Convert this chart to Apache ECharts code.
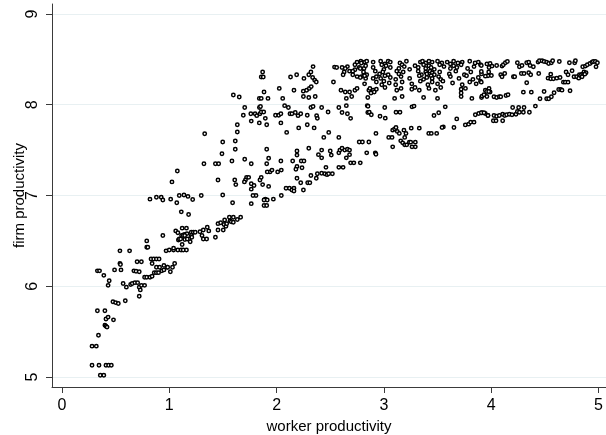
<!DOCTYPE html>
<html><head><meta charset="utf-8">
<script src="https://cdn.jsdelivr.net/npm/echarts@6/dist/echarts.min.js"></script>
<style>html,body{margin:0;padding:0;background:#fff}#c{width:606px;height:435px}</style>
</head><body><div id="c"></div>
<script>
var xTicks = [0, 1, 2, 3, 4, 5];
var yTicks = [5, 6, 7, 8, 9];
var xTitle = 'worker productivity';
var yTitle = 'firm productivity';

var lowLeft = [
[0.28,5.13],[0.345,5.13],[0.41,5.13],[0.435,5.13],[0.46,5.13],[0.357,5.02],[0.39,5.02],
[0.28,5.34],[0.32,5.34],[0.34,5.46],[0.40,5.57],[0.41,5.56],[0.42,5.55],
[0.41,5.64],[0.43,5.66],[0.48,5.63],[0.33,5.73],[0.40,5.73],
[0.475,5.83],[0.50,5.82],[0.525,5.81],[0.59,5.84],[0.72,5.89],
[0.57,6.03],[0.60,5.99],[0.64,6.02],[0.655,6.03],[0.68,6.04],[0.705,6.04],[0.72,5.99],[0.73,5.96],[0.74,6.01],[0.77,6.01],
[0.43,6.01],[0.44,6.06],[0.33,6.17],[0.35,6.17],[0.39,6.12],[0.49,6.18],[0.55,6.18],[0.67,6.17],[0.69,6.165],[0.72,6.16],
[0.77,6.10],[0.79,6.10],[0.82,6.10],[0.84,6.11],[0.86,6.15],[0.88,6.15],[0.90,6.15],[0.93,6.17],[0.95,6.18],[0.98,6.21],[1.01,6.16],[1.03,6.21],[1.05,6.25],
[0.54,6.25],[0.545,6.24],[0.70,6.27],[0.74,6.27],[0.83,6.30],[0.855,6.30],[0.88,6.30],[0.905,6.30],
[0.84,6.25],[0.88,6.21],[0.91,6.21],[0.95,6.23],[0.985,6.21],[0.54,6.39],[0.63,6.39],
[0.79,6.50],[0.79,6.43],[0.80,6.43],[0.94,6.56],
[0.97,6.39],[1.00,6.40],[1.04,6.40],[1.08,6.40],[1.11,6.40],[1.13,6.40],[1.16,6.40],[1.12,6.46],
[1.06,6.61],[1.08,6.59],[1.12,6.64],[1.16,6.64],[1.115,6.56],[1.14,6.57],[1.165,6.58],[1.185,6.52],[1.195,6.49],[1.215,6.59],[1.085,6.51],[1.145,6.515],[1.04,6.42],
[1.093,6.52],[1.106,6.52],[1.13,6.56],[1.144,6.56],[1.168,6.52],[1.205,6.595],[1.224,6.595],[1.242,6.595],[1.205,6.56],[1.21,6.54],
[1.075,7.27],[1.025,7.15],[0.82,6.96],[0.88,6.98],[0.925,6.98],[0.94,6.95],[1.013,6.96],[1.07,6.92],[1.093,7.0],[1.137,7.006],[1.174,6.99],[1.218,6.956],[1.112,6.82],[1.18,6.79]
];

var midLeft = [
[1.597,8.107],[1.652,8.085],[1.703,7.97],[1.69,7.885],[1.634,7.78],[1.764,7.82],[1.839,7.80],[1.908,7.78],
[1.634,7.70],[1.33,7.68],[1.498,7.59],[1.615,7.60],[1.615,7.51],[1.491,7.46],[1.908,7.51],[1.926,7.41],[1.908,7.35],[1.43,7.35],[1.46,7.35],[1.323,7.35],[1.584,7.38],[1.703,7.40],[1.764,7.35],
[1.454,7.17],[1.61,7.17],[1.62,7.12],[1.72,7.20],[1.71,7.17],[1.70,7.15],[1.74,7.20],[1.764,7.13],[1.764,7.07],[1.79,7.11],[1.845,7.17],[1.857,7.20],[1.87,7.12],[1.926,7.10],[1.938,7.26],[1.957,7.28],[1.913,7.26],[2.01,7.26],
[1.298,7.0],[1.498,7.006],[1.59,6.92],[1.808,7.0],[1.78,7.0],[1.764,6.91],[1.895,6.96],[1.883,6.95],[1.913,6.95],[1.883,6.89],[1.908,6.89],[1.97,6.96],
[1.286,6.60],[1.305,6.56],[1.317,6.62],[1.354,6.65],[1.368,6.61],[1.317,6.52],[1.348,6.52],[1.43,6.54],
[1.454,6.69],[1.454,6.62],[1.479,6.70],[1.503,6.62],[1.51,6.68],[1.528,6.66],[1.516,6.73],[1.535,6.69],[1.56,6.76],[1.566,6.72],[1.578,6.71],[1.597,6.76],[1.634,6.735],[1.665,6.76],[1.597,6.705]
];

var midRight = [
[1.870,8.36],[1.857,8.305],[1.876,8.305],[1.839,8.07],[1.857,8.07],[1.92,8.07],[1.883,8.14],[2.025,8.18],[2.057,8.07],[2.13,8.305],[2.187,8.33],[2.162,8.16],[2.255,8.29],
[2.249,8.15],[2.28,8.16],[2.305,8.18],[2.323,8.20],[2.25,8.09],[2.30,8.08],[2.36,8.09],
[2.30,8.33],[2.32,8.36],[2.34,8.42],[2.336,8.30],[2.355,8.27],[2.37,8.25],[2.54,8.415],[2.56,8.41],[2.53,8.25],
[2.61,8.41],[2.63,8.36],[2.62,8.33],[2.66,8.42],[2.64,8.40],
[2.73,8.44],[2.75,8.47],[2.785,8.48],[2.82,8.47],[2.77,8.41],[2.73,8.385],[2.68,8.37],[2.71,8.37],[2.71,8.33],[2.75,8.31],[2.79,8.31],[2.815,8.34],[2.83,8.29],[2.815,8.40],
[2.60,8.16],[2.64,8.14],[2.68,8.14],[2.73,8.16],[2.75,8.18],[2.65,8.07],[2.70,8.09],[2.86,8.16],
[1.76,7.90],[1.80,7.90],[1.815,7.88],[1.845,7.90],[1.857,7.92],[1.88,7.92],[1.895,7.85],[1.84,7.97],[1.85,7.98],
[1.99,7.885],[2.02,7.885],[2.04,7.90],[2.04,7.80],[2.075,7.99],[2.11,7.97],
[2.125,7.90],[2.143,7.90],[2.174,7.915],[2.20,7.88],[2.225,7.90],[2.094,7.695],[2.206,7.745],
[2.286,7.885],[2.286,7.78],[2.32,7.97],[2.34,7.98],[2.35,7.745],[2.373,7.88],[2.38,7.85],[2.42,7.97],[2.44,7.64],[2.48,7.92],[2.486,7.695],
[2.58,7.97],[2.65,7.99],[2.58,7.64],[2.61,7.915],[2.66,7.90],[2.69,7.85],[2.77,7.59],[2.80,7.59],[2.86,7.59],[2.845,7.99],[2.85,7.915],[2.84,7.47],
[2.04,7.38],[2.044,7.28],[2.088,7.08],[2.12,7.08],[2.143,7.06],[2.162,7.08],[2.044,7.0],[2.162,7.05],[2.25,7.06],
[2.15,7.38],[2.19,7.32],[2.18,7.29],[2.23,7.38],[2.255,7.38],[2.237,7.305],[2.19,7.445],[2.19,7.49],
[2.19,7.19],[2.225,7.14],[2.29,7.14],[2.31,7.14],[2.32,7.22],[2.37,7.19],[2.30,7.52],
[2.38,7.24],[2.42,7.245],[2.45,7.24],[2.47,7.23],[2.485,7.24],[2.52,7.24],[2.46,7.31],
[2.39,7.45],[2.42,7.415],[2.42,7.50],[2.50,7.49],[2.51,7.445],
[2.58,7.47],[2.59,7.50],[2.61,7.52],[2.635,7.50],[2.66,7.51],[2.68,7.45],[2.65,7.415],[2.68,7.50],
[2.58,7.31],[2.62,7.31],[2.69,7.36],[2.72,7.36],[2.78,7.36]
];

var topBand = [
[2.79,8.46],[2.84,8.48],[2.90,8.47],[2.97,8.48],[3.01,8.45],[3.04,8.48],[3.06,8.47],[3.15,8.46],[3.21,8.48],[3.34,8.47],[3.36,8.48],[3.39,8.46],[3.42,8.48],[3.45,8.47],[3.50,8.48],[3.54,8.46],[3.59,8.47],[3.62,8.45],[3.65,8.48],[3.69,8.46],[3.73,8.47],[3.80,8.48],[3.85,8.46],[3.88,8.47],[3.96,8.45],
[2.78,8.40],[2.83,8.43],[2.90,8.41],[2.98,8.44],[3.00,8.39],[3.02,8.43],[3.06,8.41],[3.14,8.40],[3.17,8.44],[3.19,8.42],[3.24,8.39],[3.29,8.43],[3.32,8.41],[3.37,8.44],[3.39,8.40],[3.42,8.43],[3.44,8.41],[3.47,8.39],[3.52,8.44],[3.56,8.42],[3.62,8.40],[3.65,8.43],[3.68,8.41],[3.72,8.44],[3.78,8.40],[3.84,8.42],[3.90,8.44],[3.98,8.41],
[2.81,8.36],[2.84,8.33],[2.92,8.37],[2.96,8.34],[2.99,8.36],[3.04,8.33],[3.12,8.37],[3.14,8.34],[3.18,8.36],[3.32,8.37],[3.35,8.33],[3.39,8.36],[3.40,8.34],[3.43,8.37],[3.45,8.35],[3.47,8.33],[3.52,8.36],[3.61,8.34],[3.67,8.37],[3.75,8.33],[3.81,8.36],[3.91,8.34],
[2.78,8.30],[2.82,8.32],[2.90,8.29],[2.93,8.31],[2.97,8.29],[3.01,8.32],[3.06,8.30],[3.11,8.28],[3.16,8.31],[3.24,8.29],[3.33,8.32],[3.37,8.28],[3.40,8.30],[3.44,8.32],[3.45,8.29],[3.51,8.31],[3.53,8.28],[3.62,8.31],[3.70,8.29],[3.77,8.32],[3.83,8.28],[3.88,8.30],[3.97,8.32],
[2.82,8.23],[2.93,8.25],[2.98,8.22],[3.00,8.26],[3.05,8.24],[3.11,8.22],[3.17,8.25],[3.26,8.23],[3.34,8.26],[3.41,8.22],[3.45,8.25],[3.50,8.23],[3.55,8.26],[3.64,8.24],[3.73,8.22],[3.80,8.25],[3.86,8.23],[3.90,8.26],
[2.87,8.18],[2.90,8.16],[2.93,8.17],[3.01,8.19],[3.12,8.16],[3.16,8.18],[3.26,8.17],[3.29,8.19],[3.33,8.16],[3.42,8.18],[3.48,8.16],[3.53,8.19],[3.72,8.17],[3.76,8.18],[3.945,8.16],[3.98,8.18],
[2.88,8.13],[2.91,8.14],[3.72,8.13],[3.99,8.14],
[2.85,8.08],[3.10,8.07],[3.17,8.09],[3.37,8.08],[3.50,8.07],[3.72,8.09],[3.82,8.07],[3.91,8.08],[3.96,8.09]
];

var lowerBranch = [
[2.852,7.984],[2.864,7.918],[2.883,7.889],[3.008,7.97],[3.013,7.852],[2.964,7.874],[3.113,7.918],[3.15,7.918],[3.262,7.977],[3.281,7.985],[3.467,7.882],[3.511,7.911],[3.572,7.977],[3.679,7.844],
[3.759,7.778],[3.79,7.786],[3.809,7.808],[3.84,7.808],[3.852,7.889],[3.884,7.904],[3.914,7.911],[3.945,7.904],[3.97,7.882],
[3.554,7.756],[3.542,7.75],[3.653,7.75],[3.418,7.684],[3.442,7.684],[3.492,7.684],[3.33,7.742],[3.255,7.742],
[3.082,7.72],[3.10,7.734],[3.113,7.75],[3.125,7.706],[3.144,7.684],[3.187,7.72],[3.206,7.684],[3.194,7.64],
[3.045,7.64],[3.076,7.64],[3.157,7.602],[3.175,7.58],[3.194,7.558],[3.213,7.558],[3.237,7.588],[3.25,7.588],[3.293,7.588],[3.262,7.536],[3.293,7.536],[3.082,7.536],
[2.926,7.684],[2.92,7.47],[2.926,7.455]
];

var rightEnd = [
[3.908,8.433],[3.99,8.455],[4.008,8.426],[4.051,8.433],[4.101,8.426],[4.113,8.44],[4.132,8.462],[4.151,8.477],[4.244,8.462],[4.263,8.418],[4.287,8.433],[4.331,8.462],[4.35,8.47],[4.362,8.433],[4.393,8.418],[4.437,8.47],[4.449,8.484],[4.474,8.484],[4.493,8.477],[4.517,8.47],[4.536,8.455],[4.561,8.462],[4.573,8.484],[4.635,8.477],[4.729,8.462],[4.778,8.462],[4.785,8.484],[4.853,8.418],[4.878,8.426],[4.896,8.44],[4.921,8.455],[4.94,8.47],[4.952,8.477],[4.971,8.477],[4.99,8.462],[4.977,8.418],
[3.908,8.367],[3.977,8.36],[4.002,8.323],[4.089,8.33],[4.126,8.345],[4.207,8.308],[4.281,8.345],[4.306,8.345],[4.35,8.352],[4.368,8.33],[4.443,8.345],[4.555,8.337],[4.698,8.36],[4.716,8.33],[4.754,8.374],[4.822,8.33],[4.847,8.337],[4.865,8.36],[4.884,8.352],[4.772,8.308],
[3.908,8.249],[3.946,8.315],[4.101,8.308],[4.219,8.308],[4.331,8.242],[4.53,8.293],[4.555,8.286],[4.58,8.286],[4.611,8.293],[4.642,8.3],[4.673,8.249],[4.691,8.249],[4.716,8.249],[4.797,8.308],[4.816,8.293],[4.834,8.323],[4.847,8.308],[4.872,8.337],
[3.915,8.095],[3.933,8.11],[3.958,8.146],[3.977,8.146],[4.026,8.088],[4.051,8.08],[4.076,8.088],[4.089,8.088],[4.138,8.102],[4.157,8.11],[4.3,8.139],[4.374,8.139],[4.455,8.066],[4.493,8.146],[4.517,8.066],[4.536,8.066],[4.561,8.088],[4.586,8.132],[4.629,8.168],[4.648,8.168],[4.66,8.161],[4.735,8.154],
[4.2,7.97],[4.256,7.97],[4.306,7.97],[4.412,7.985],[3.908,7.911],[3.933,7.911],[3.97,7.882],[4.026,7.882],[4.051,7.874],[4.076,7.882],[4.107,7.896],[4.126,7.882],[4.144,7.889],[4.169,7.896],[4.194,7.889],[4.231,7.896],[4.244,7.926],[4.263,7.918],[4.3,7.918],[4.356,7.918],[4.02,7.823],[4.045,7.823],[4.107,7.823]
];

var points = [].concat(lowLeft, midLeft, midRight, topBand, lowerBranch, rightEnd);

var chart = echarts.init(document.getElementById('c'), null, {renderer: 'canvas'});
var font = 'Liberation Sans, Arial, Helvetica, sans-serif';
chart.setOption({
  animation: false,
  backgroundColor: '#ffffff',
  grid: {left: 52, right: 0, top: 4, bottom: 48, containLabel: false, outerBoundsMode: 'none'},
  xAxis: {
    type: 'value', min: -0.093, max: 5.07,
    name: xTitle, nameLocation: 'middle', nameGap: 30,
    nameTextStyle: {color: '#000', fontSize: 15, fontFamily: font},
    axisLine: {show: true, onZero: false, lineStyle: {color: '#3a3a3a', width: 1}},
    axisTick: {show: true, length: 6, customValues: xTicks, lineStyle: {color: '#3a3a3a'}},
    axisLabel: {customValues: xTicks, color: '#000', fontSize: 16, fontFamily: font, margin: 11},
    splitLine: {show: false}
  },
  yAxis: {
    type: 'value', min: 4.89, max: 9.11,
    name: yTitle, nameLocation: 'middle', nameGap: 25, nameRotate: 90, nameMoveOverlap: false,
    nameTextStyle: {color: '#000', fontSize: 15, fontFamily: font},
    axisLine: {show: true, onZero: false, lineStyle: {color: '#3a3a3a', width: 1}},
    axisTick: {show: true, length: 6, customValues: yTicks, lineStyle: {color: '#3a3a3a'}},
    axisLabel: {customValues: yTicks, rotate: 90, color: '#000', fontSize: 16, fontFamily: font, margin: 11},
    splitLine: {show: true, lineStyle: {color: '#e8f0f2', width: 1}}
  },
  series: [{
    type: 'scatter',
    data: points,
    symbol: 'circle',
    symbolSize: 3.4,
    itemStyle: {color: '#ffffff', borderColor: '#000000', borderWidth: 1.5, opacity: 1}
  }]
});
</script></body></html>
